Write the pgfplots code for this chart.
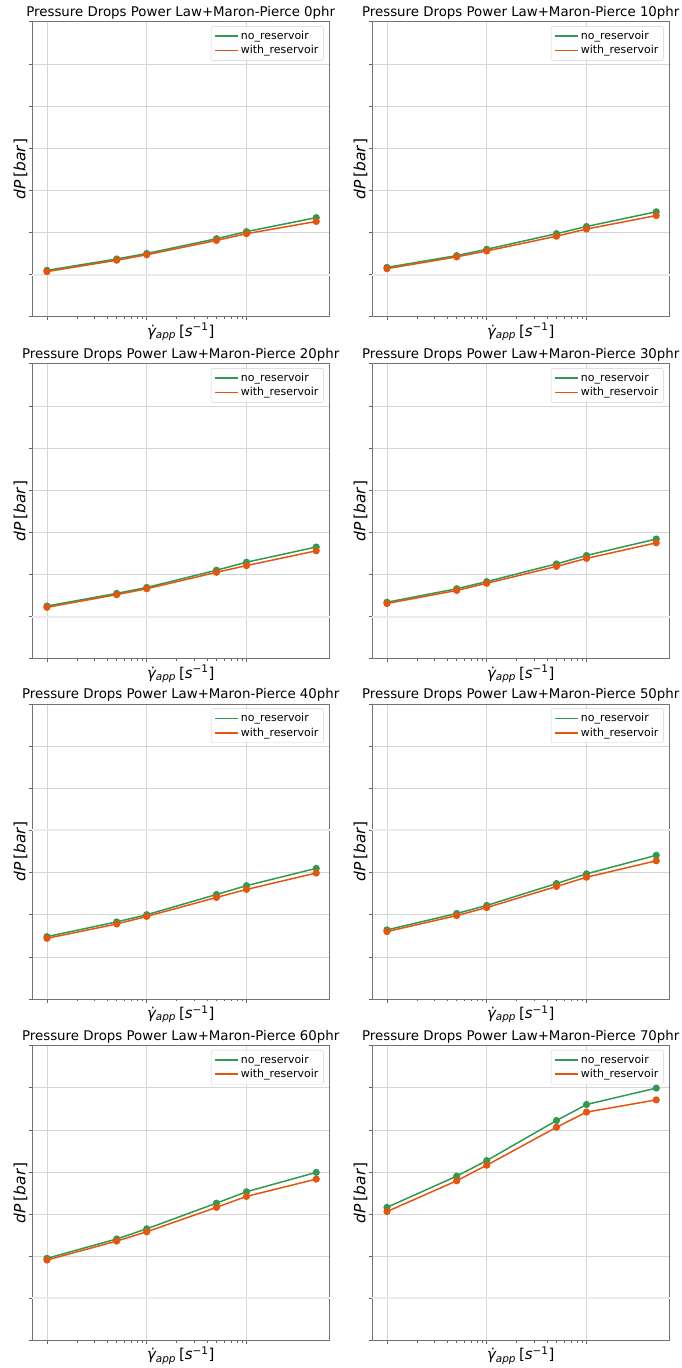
\documentclass[border=0pt]{standalone}
\usepackage{fontspec}
\setmainfont{DejaVu Sans}
\usepackage{pgfplots}
\usepackage{pgfplotstable}
\pgfplotsset{compat=1.18}
\definecolor{cgreen}{RGB}{49,153,84}
\definecolor{corange}{RGB}{230,85,13}

\pgfplotstableread{
x g o
10 1.10 1.07
50 1.37 1.34
100 1.50 1.47
500 1.85 1.81
1000 2.02 1.97
5000 2.35 2.26
}\tA
\pgfplotstableread{
x g o
10 1.17 1.14
50 1.45 1.42
100 1.60 1.56
500 1.97 1.91
1000 2.14 2.08
5000 2.49 2.40
}\tB
\pgfplotstableread{
x g o
10 1.25 1.22
50 1.55 1.52
100 1.69 1.66
500 2.10 2.05
1000 2.29 2.21
5000 2.65 2.56
}\tC
\pgfplotstableread{
x g o
10 1.34 1.31
50 1.66 1.62
100 1.83 1.79
500 2.25 2.19
1000 2.45 2.38
5000 2.84 2.75
}\tD
\pgfplotstableread{
x g o
10 1.48 1.44
50 1.83 1.78
100 2.00 1.96
500 2.48 2.41
1000 2.69 2.60
5000 3.10 2.99
}\tE
\pgfplotstableread{
x g o
10 1.64 1.60
50 2.03 1.98
100 2.22 2.17
500 2.74 2.67
1000 2.97 2.89
5000 3.41 3.28
}\tF
\pgfplotstableread{
x g o
10 1.95 1.91
50 2.41 2.36
100 2.65 2.58
500 3.26 3.16
1000 3.53 3.42
5000 3.99 3.83
}\tG
\pgfplotstableread{
x g o
10 3.16 3.06
50 3.90 3.79
100 4.27 4.16
500 5.22 5.06
1000 5.60 5.42
5000 5.99 5.71
}\tH

\pgfplotsset{
  every axis/.append style={
    scale only axis, width=297.5bp, height=295bp,
    anchor=north west,
    xmin=7.08, xmax=6790, ymin=0, ymax=7,
    xtick={10,100,1000}, xticklabels={}, yticklabels={},
    extra y tick labels={},
    grid=major,
    major grid style={gray!32, line width=0.6bp},
    extra y tick style={major grid style={gray!16, line width=2bp}},
    axis line style={black!55, line width=0.7bp},
    tick style={black!60, line width=0.6bp},
    tick align=outside, xtick pos=bottom, ytick pos=left,
    major tick length=3.5bp, minor tick length=2bp,
    legend style={at={(0.98,0.985)}, anchor=north east, draw=gray!35, rounded corners=2bp,
      fill=white, fill opacity=0.85, text opacity=1, draw opacity=1,
      font=\fontsize{11}{13}\selectfont, row sep=0.5bp, inner xsep=3bp, inner ysep=3bp},
    legend cell align=left,
  },
  every axis title/.style={at={(axis description cs:0.5,1.017)}, anchor=base, font=\fontsize{13.4}{16}\selectfont},
  every axis x label/.style={at={(axis description cs:0.5,-0.066)}, anchor=base, font=\fontsize{15}{17}\selectfont},
  every axis y label/.style={at={(axis description cs:-0.022,0.5)}, rotate=90, anchor=base, font=\fontsize{15.5}{17}\selectfont},
  gline/.style={cgreen, line width=1.5bp, mark=*, mark size=2.8bp, mark options={fill=cgreen, draw=cgreen}},
  oline/.style={corange, line width=1.5bp, mark=*, mark size=2.8bp, mark options={fill=corange, draw=corange}},
}

\newcommand{\panel}[6]{%
\begin{semilogxaxis}[at={(#1bp,-#2bp)}, title={#3}, ytick={#5}, extra y ticks={#6},
    legend image code/.code={\draw[##1, mark=none, line width=1.8bp] (0bp,0bp) -- (23bp,0bp);},
    xlabel={\textit{\.{γ}}\textsubscript{\textit{app}}\hspace{3bp}[\textit{s}\textsuperscript{−1}]},
    ylabel={\textit{dP}\hspace{3bp}[\textit{bar}]}]
\addplot[gline] table[x=x,y=g]{#4};
\addplot[oline] table[x=x,y=o]{#4};
\legend{no\_reservoir, with\_reservoir}
\end{semilogxaxis}}

\begin{document}
\begin{tikzpicture}
\useasboundingbox (0,0) rectangle (682bp,-1368bp);
\panel{32}{21.7}{Pressure Drops Power Law+Maron-Pierce 0phr}{\tA}{0,2,3,4,5,6,7}{1}
\panel{372}{21.7}{Pressure Drops Power Law+Maron-Pierce 10phr}{\tB}{0,2,3,4,5,6,7}{1}
\panel{32}{363.7}{Pressure Drops Power Law+Maron-Pierce 20phr}{\tC}{0,2,3,4,5,6,7}{1}
\panel{372}{363.7}{Pressure Drops Power Law+Maron-Pierce 30phr}{\tD}{0,2,3,4,5,6,7}{1}
\panel{32}{704}{Pressure Drops Power Law+Maron-Pierce 40phr}{\tE}{0,1,2,3,5,6,7}{4}
\panel{372}{704}{Pressure Drops Power Law+Maron-Pierce 50phr}{\tF}{0,1,2,3,5,6,7}{4}
\panel{32}{1045.5}{Pressure Drops Power Law+Maron-Pierce 60phr}{\tG}{0,2,3,4,5,6,7}{1}
\panel{372}{1045.5}{Pressure Drops Power Law+Maron-Pierce 70phr}{\tH}{0,2,3,4,5,6,7}{1}
\end{tikzpicture}
\end{document}
